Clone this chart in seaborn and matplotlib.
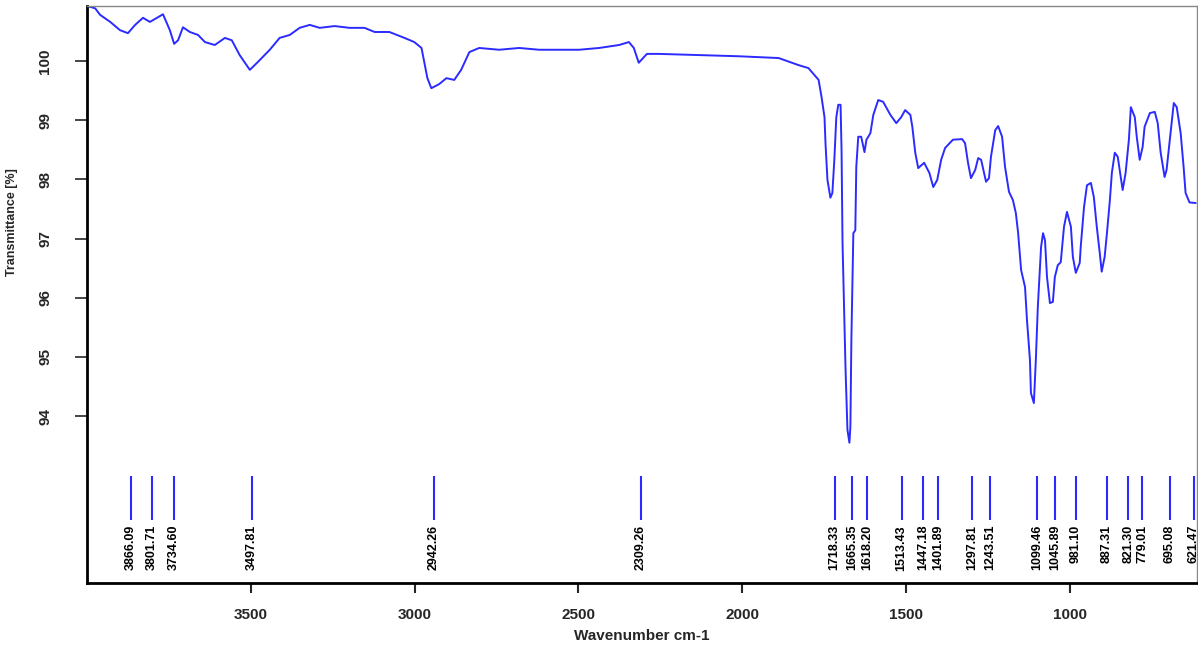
import numpy as np
import pandas as pd
import matplotlib
matplotlib.use("Agg")
import matplotlib.pyplot as plt
import seaborn as sns

# spectrum (wavenumber cm-1, transmittance %)
wavenumber = [4000, 3975, 3960, 3929, 3899, 3875, 3853, 3829, 3808, 3783,
              3768, 3747, 3734, 3722, 3707, 3686, 3661, 3640, 3610, 3579,
              3558, 3534, 3503, 3479, 3442, 3412, 3381, 3351, 3320, 3290,
              3244, 3199, 3153, 3122, 3077, 3031, 3001, 2979, 2961, 2949,
              2925, 2903, 2879, 2858, 2833, 2803, 2742, 2681, 2620, 2559,
              2498, 2437, 2376, 2346, 2331, 2316, 2291, 2255, 2133, 2011,
              1889, 1828, 1798, 1767, 1758, 1749, 1746, 1740, 1731, 1725,
              1719, 1713, 1707, 1700, 1697, 1694, 1685, 1679, 1673, 1670,
              1667, 1661, 1655, 1652, 1646, 1637, 1627, 1621, 1609, 1600,
              1585, 1570, 1548, 1530, 1515, 1503, 1487, 1481, 1472, 1463,
              1445, 1429, 1417, 1405, 1393, 1381, 1357, 1329, 1320, 1311,
              1302, 1289, 1280, 1271, 1262, 1256, 1247, 1241, 1228, 1219,
              1207, 1198, 1186, 1174, 1165, 1158, 1149, 1137, 1131, 1122,
              1119, 1110, 1104, 1098, 1088, 1082, 1076, 1070, 1061, 1052,
              1046, 1037, 1028, 1018, 1009, 997, 991, 982, 970, 967,
              957, 948, 936, 927, 918, 909, 903, 894, 887, 878,
              872, 863, 854, 845, 839, 830, 820, 814, 802, 796,
              787, 778, 772, 756, 741, 732, 723, 711, 705, 693,
              683, 674, 662, 653, 647, 635, 616]
transmittance = [100.93, 100.89, 100.78, 100.66, 100.52, 100.47, 100.61, 100.73, 100.66, 100.74,
                 100.79, 100.52, 100.29, 100.35, 100.57, 100.49, 100.44, 100.32, 100.27, 100.39,
                 100.35, 100.10, 99.85, 99.98, 100.19, 100.39, 100.44, 100.56, 100.61, 100.56,
                 100.59, 100.56, 100.56, 100.49, 100.49, 100.39, 100.32, 100.22, 99.71, 99.54,
                 99.61, 99.71, 99.68, 99.85, 100.15, 100.22, 100.19, 100.22, 100.19, 100.19,
                 100.19, 100.22, 100.27, 100.32, 100.22, 99.97, 100.12, 100.12, 100.10, 100.08,
                 100.05, 99.93, 99.88, 99.68, 99.39, 99.05, 98.61, 97.99, 97.69, 97.77,
                 98.33, 99.05, 99.26, 99.26, 98.50, 96.93, 94.83, 93.77, 93.55, 93.82,
                 95.29, 97.09, 97.14, 98.21, 98.72, 98.72, 98.46, 98.67, 98.78, 99.09,
                 99.34, 99.31, 99.09, 98.95, 99.05, 99.17, 99.09, 98.89, 98.45, 98.19,
                 98.28, 98.11, 97.87, 97.99, 98.33, 98.53, 98.67, 98.68, 98.61, 98.28,
                 98.02, 98.16, 98.36, 98.33, 98.11, 97.96, 98.02, 98.38, 98.83, 98.90,
                 98.72, 98.21, 97.79, 97.65, 97.43, 97.09, 96.47, 96.18, 95.62, 94.95,
                 94.39, 94.22, 94.95, 95.84, 96.86, 97.09, 96.97, 96.35, 95.91, 95.93,
                 96.35, 96.55, 96.60, 97.20, 97.45, 97.20, 96.69, 96.42, 96.59, 96.86,
                 97.53, 97.90, 97.94, 97.70, 97.20, 96.76, 96.44, 96.69, 97.09, 97.65,
                 98.11, 98.45, 98.38, 98.04, 97.82, 98.11, 98.67, 99.22, 99.05, 98.72,
                 98.33, 98.55, 98.89, 99.12, 99.14, 98.95, 98.45, 98.04, 98.16, 98.78,
                 99.29, 99.22, 98.78, 98.21, 97.77, 97.61, 97.60]

peak_labels = ["3866.09", "3801.71", "3734.60", "3497.81", "2942.26", "2309.26",
               "1718.33", "1665.35", "1618.20", "1513.43", "1447.18", "1401.89",
               "1297.81", "1243.51", "1099.46", "1045.89", "981.10", "887.31",
               "821.30", "779.01", "695.08", "621.47"]
peak_positions = [float(p) for p in peak_labels]

ytick_values = [100, 99, 98, 97, 96, 95, 94]
xtick_values = [3500, 3000, 2500, 2000, 1500, 1000]

blue = "#2b2bff"

sns.set_style("white")
plt.rcParams['font.family'] = ['Liberation Sans', 'DejaVu Sans']

df = pd.DataFrame({"wavenumber": wavenumber, "T": transmittance})

fig = plt.figure(figsize=(11.98, 6.54), dpi=100)
ax = fig.add_axes([0.0726, 0.1086, 0.9266, 0.8823])

sns.lineplot(data=df, x="wavenumber", y="T", ax=ax, color=blue,
             linewidth=1.4, estimator=None)

# peak marker ticks and their labels
ax.vlines(peak_positions, 92.25, 92.99, colors=blue, linewidth=1.5)
for pos, lab in zip(peak_positions, peak_labels):
    ax.text(pos, 92.16, lab, rotation=90, ha="center", va="top",
            fontsize=9, fontweight="bold", color="black")

ax.set_xlim(4000, 612)
ax.set_ylim(91.18, 100.93)

ax.set_xticks(xtick_values)
ax.set_xticklabels([str(v) for v in xtick_values], fontsize=11, fontweight="bold")
ax.set_yticks(ytick_values)
ax.set_yticklabels([str(v) for v in ytick_values], fontsize=11, fontweight="bold",
                   rotation=90, va="center")

ax.tick_params(axis="x", direction="out", length=7, width=1.5, pad=11, bottom=True)
ax.tick_params(axis="y", direction="out", length=9, width=1.2, pad=16, left=True)

ax.set_xlabel("Wavenumber cm-1", fontsize=11, fontweight="bold")
ax.set_ylabel("Transmittance [%]", fontsize=9, fontweight="bold")
ax.xaxis.set_label_coords(0.5, -0.08)
ax.yaxis.set_label_coords(-0.062, 0.626)

for side in ["left", "bottom"]:
    ax.spines[side].set_color("black")
    ax.spines[side].set_linewidth(2)
for side in ["top", "right"]:
    ax.spines[side].set_color("#888888")
    ax.spines[side].set_linewidth(1)

fig.savefig("out.png", dpi=100)
